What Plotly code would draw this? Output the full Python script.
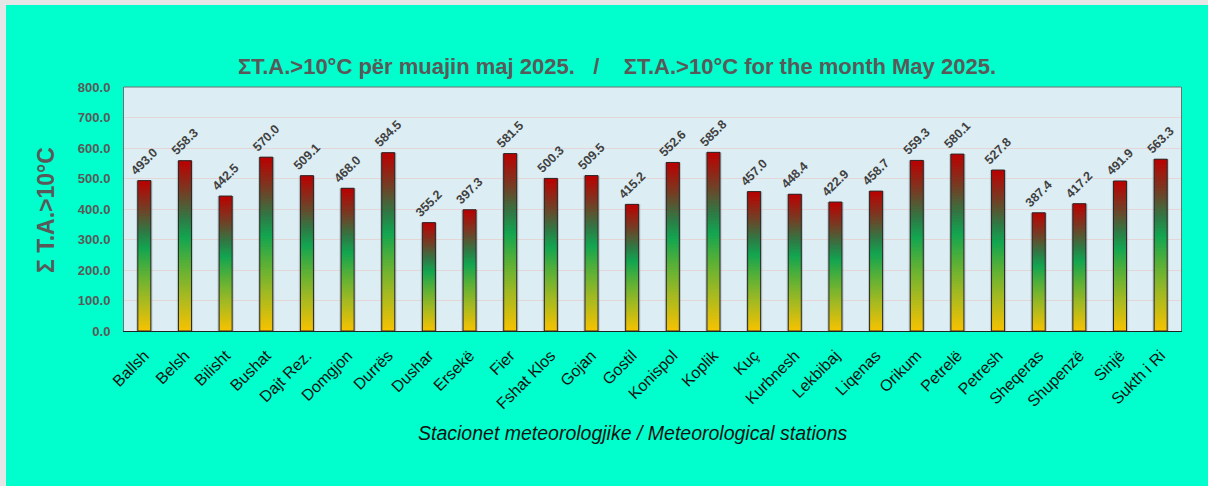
import plotly.graph_objects as go
import numpy as np

stations = ["Ballsh", "Belsh", "Bilisht", "Bushat", "Dajt Rez.", "Domgjon", "Durrës", "Dushar",
            "Ersekë", "Fier", "Fshat Klos", "Gojan", "Gostil", "Konispol", "Koplik", "Kuç",
            "Kurbnesh", "Lekbibaj", "Liqenas", "Orikum", "Petrelë", "Petresh", "Sheqeras",
            "Shupenzë", "Sinjë", "Sukth i Ri"]
values = [493.0, 558.3, 442.5, 570.0, 509.1, 468.0, 584.5, 355.2,
          397.3, 581.5, 500.3, 509.5, 415.2, 552.6, 585.8, 457.0,
          448.4, 422.9, 458.7, 559.3, 580.1, 527.8, 387.4,
          417.2, 491.9, 563.3]
y_ticks = [0, 100, 200, 300, 400, 500, 600, 700, 800]

title_text = ("ΣT.A.>10°C për muajin maj 2025.\u00a0\u00a0\u00a0/\u00a0\u00a0\u00a0\u00a0"
              "ΣT.A.>10°C for the month May 2025.")
y_title = "Σ T.A.>10°C"
x_title = "Stacionet meteorologjike / Meteorological stations"

# gradient stops (fraction of bar height from bottom -> colour)
stops = [(0.0, (247, 194, 0)), (0.2, (168, 186, 32)), (0.4, (85, 176, 56)),
         (0.55, (18, 165, 80)), (0.66, (46, 122, 69)), (0.82, (118, 60, 36)),
         (1.0, (188, 0, 0))]


def grad_color(t):
    for (t0, c0), (t1, c1) in zip(stops[:-1], stops[1:]):
        if t <= t1:
            f = (t - t0) / (t1 - t0)
            c = [round(a + (b - a) * f) for a, b in zip(c0, c1)]
            return f"rgb({c[0]},{c[1]},{c[2]})"
    c = stops[-1][1]
    return f"rgb({c[0]},{c[1]},{c[2]})"


vals = np.array(values)
N = 60
BW = 0.32
FONT = "Liberation Sans, Arial, sans-serif"

fig = go.Figure()

# soft shadow
fig.add_trace(go.Bar(x=stations, y=vals, base=0, width=BW + 0.08,
                     marker=dict(color="rgba(0,0,0,0.16)", line=dict(width=0)),
                     hoverinfo="skip", showlegend=False))

# gradient fill: overlapping slices so no seams show
for k in range(N):
    h = min(3, N - k) / N
    fig.add_trace(go.Bar(
        x=stations, y=vals * h, base=vals * k / N, width=BW,
        marker=dict(color=grad_color((k + 0.5) / N), line=dict(width=0)),
        hoverinfo="skip", showlegend=False))

fig.add_trace(go.Bar(
    x=stations, y=vals, base=0, width=BW,
    marker=dict(color="rgba(0,0,0,0)", line=dict(color="#2a2a2a", width=1)),
    text=[f"{v:.1f}" for v in values], textposition="outside", textangle=-45,
    constraintext="none",
    textfont=dict(family="Liberation Sans Narrow, " + FONT, size=12.5, color="#404040",
                  weight="bold"),
    cliponaxis=False, showlegend=False, name=""))

W, H = 1208, 486
L, R, T, B = 124, 27, 87, 155
pw, ph = W - L - R, H - T - B


def px_x(p):
    return (p - L) / pw


def px_y(p):
    return (H - B - p) / ph


fig.update_layout(
    width=W, height=H,
    margin=dict(l=L, r=R, t=T, b=B),
    paper_bgcolor="#00FFCC",
    plot_bgcolor="#DCEDF3",
    barmode="overlay",
    font=dict(family=FONT),
    title=dict(text=title_text, x=617 / W, xanchor="center", y=1 - 66 / H,
               yanchor="middle", yref="container",
               font=dict(family=FONT, size=22, color="#595959", weight="bold")),
    xaxis=dict(range=[-0.5, len(stations) - 0.5], tickangle=-45,
               tickfont=dict(family=FONT, size=16, color="#111111"),
               showline=True, linecolor="#222222", linewidth=1, mirror=False,
               showgrid=False, ticks="", ticklabelstandoff=8),
    yaxis=dict(range=[0, 800], tickvals=y_ticks, tickformat=".1f",
               tickfont=dict(family=FONT, size=13, color="#595959", weight="bold"),
               showline=True, linecolor="#6f6f6f", linewidth=1, mirror=True,
               gridcolor="#E4D6D6", gridwidth=1, ticks="", ticklabelstandoff=10,
               zeroline=False),
    annotations=[
        dict(text=y_title, x=px_x(46), y=px_y(210), xref="paper", yref="paper",
             textangle=-90, showarrow=False, xanchor="center", yanchor="middle",
             font=dict(family=FONT, size=23, color="#595959", weight="bold")),
        dict(text=x_title, x=px_x(632), y=px_y(433), xref="paper", yref="paper",
             showarrow=False, xanchor="center", yanchor="middle",
             font=dict(family=FONT, size=19.5, color="#111111", style="italic")),
    ],
    shapes=[
        dict(type="line", xref="paper", yref="paper", x0=0, x1=1, y0=1, y1=1,
             line=dict(color="#6f6f6f", width=1)),
        dict(type="rect", xref="paper", yref="paper", x0=px_x(0), x1=px_x(6),
             y0=px_y(H), y1=px_y(0), fillcolor="#E6E6E6", line=dict(width=0),
             layer="below"),
        dict(type="rect", xref="paper", yref="paper", x0=px_x(0), x1=px_x(W),
             y0=px_y(5), y1=px_y(0), fillcolor="#E6E6E6", line=dict(width=0),
             layer="below"),
    ],
)

fig.write_html("out.html")
